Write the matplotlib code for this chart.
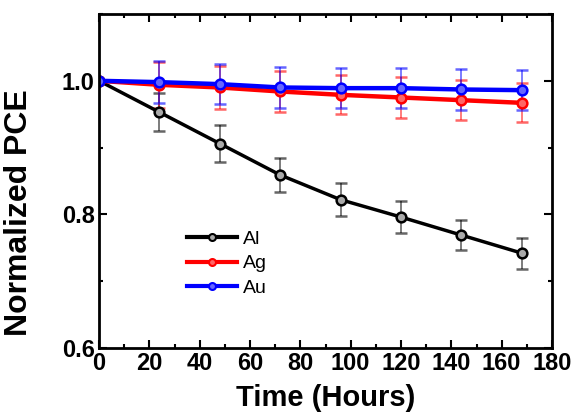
import matplotlib
matplotlib.use("Agg")
import matplotlib.pyplot as plt
from matplotlib.lines import Line2D
from matplotlib.ticker import MultipleLocator

hours = [0, 24, 48, 72, 96, 120, 144, 168]

al_pce = [1.0, 0.953, 0.906, 0.859, 0.822, 0.796, 0.769, 0.742]
al_err = [0.0, 0.028, 0.028, 0.026, 0.025, 0.024, 0.023, 0.023]

ag_pce = [1.0, 0.994, 0.990, 0.984, 0.979, 0.975, 0.971, 0.967]
ag_err = [0.0, 0.034, 0.032, 0.030, 0.029, 0.030, 0.030, 0.029]

au_pce = [1.0, 0.998, 0.995, 0.990, 0.989, 0.989, 0.987, 0.986]
au_err = [0.0, 0.031, 0.030, 0.031, 0.030, 0.030, 0.030, 0.030]

names = ["Al", "Ag", "Au"]
colors = ["black", "red", "blue"]
face_colors = ["#aaaaaa", "#ff6666", "#6666ff"]

plt.rcParams["font.family"] = ["Liberation Sans", "DejaVu Sans"]

fig = plt.figure(figsize=(5.74, 4.13), dpi=100)
ax = fig.add_axes([99 / 574, 1 - 348 / 413, 453 / 574, 334 / 413])

handles = []
for name, vals, errs, color, fc in zip(names, [al_pce, ag_pce, au_pce],
                                       [al_err, ag_err, au_err], colors, face_colors):
    lw = 2.5 if color == "black" else 3.2
    cont = ax.errorbar(hours, vals, yerr=errs, color=color, lw=lw, marker="o",
                       ms=7, mfc=fc, mec=color, mew=1.8, ecolor=color,
                       elinewidth=1.2, capsize=4, capthick=1.2)
    for bar in cont[2]:
        bar.set_alpha(0.6)
    for cap in cont[1]:
        cap.set_alpha(0.6)
    handles.append(Line2D([], [], color=color, lw=3, marker="o", ms=5,
                          mfc=fc, mec=color, mew=1.5, label=name))

ax.set_xlim(0, 180)
ax.set_ylim(0.6, 1.1)
ax.xaxis.set_major_locator(MultipleLocator(20))
ax.xaxis.set_minor_locator(MultipleLocator(10))
ax.yaxis.set_minor_locator(MultipleLocator(0.1))
ax.set_yticks([0.6, 0.8, 1.0])
ax.set_yticklabels(["0.6", "0.8", "1.0"])
ax.tick_params(which="both", direction="in", top=True, right=True, width=1.5)
ax.tick_params(which="major", length=6, labelsize=17, pad=3)
ax.tick_params(which="minor", length=3)
for lab in ax.get_xticklabels() + ax.get_yticklabels():
    lab.set_fontweight("bold")
for spine in ax.spines.values():
    spine.set_linewidth(2)

ax.set_xlabel("Time (Hours)", fontsize=21, fontweight="bold", labelpad=6)
ax.set_ylabel("Normalized PCE", fontsize=23, fontweight="bold")
ax.yaxis.set_label_coords(-0.143, 0.404)

ax.legend(handles=handles, loc="upper left", bbox_to_anchor=(0.194, 0.352),
          frameon=False, fontsize=14, handlelength=2.6, handletextpad=0.3,
          labelspacing=0.35, borderpad=0, borderaxespad=0)

fig.savefig("out.png", dpi=100)
